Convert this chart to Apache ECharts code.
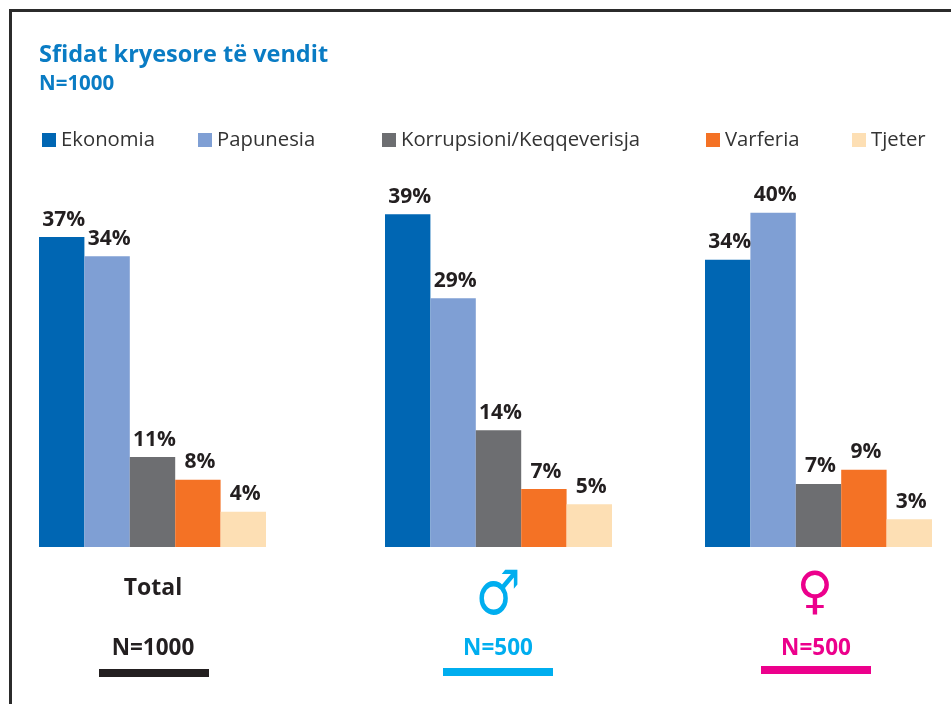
<!DOCTYPE html>
<html>
<head>
<meta charset="utf-8">
<style>
  html, body { margin: 0; padding: 0; background: #fff; }
  #chart { width: 951px; height: 704px; }
</style>
<script src="https://cdn.jsdelivr.net/npm/echarts@6/dist/echarts.min.js"></script>
</head>
<body>
<div id="chart"></div>
<script>
var categories = ["Ekonomia", "Papunesia", "Korrupsioni/Keqqeverisja", "Varferia", "Tjeter"];
var colors = ["#0066b3", "#7f9fd4", "#6d6e71", "#f47225", "#fddfb4"];

// bar heights, they do not always fit the printed label
var totalValues = [36.9, 34.6, 10.7, 8.0, 4.2];
var maleValues = [39.6, 29.6, 13.9, 6.9, 5.1];
var femaleValues = [34.2, 39.8, 7.5, 9.2, 3.3];

// printed labels
var totalLabels = ["37%", "34%", "11%", "8%", "4%"];
var maleLabels = ["39%", "29%", "14%", "7%", "5%"];
var femaleLabels = ["34%", "40%", "7%", "9%", "3%"];

var font = "Open Sans";
var groups = [
  { left: 39, values: totalValues, labels: totalLabels },
  { left: 385, values: maleValues, labels: maleLabels },
  { left: 705, values: femaleValues, labels: femaleLabels }
];
var legendLeft = [42, 198, 382, 706, 852];

var grids = [], xAxes = [], yAxes = [], series = [];
groups.forEach(function(g, i) {
  grids.push({ left: g.left, top: 211, width: 227, height: 336 });
  xAxes.push({ type: "category", gridIndex: i, data: [""], show: false });
  yAxes.push({ type: "value", gridIndex: i, min: 0, max: 40, show: false });
  categories.forEach(function(name, c) {
    series.push({
      name: name,
      type: "bar",
      xAxisIndex: i,
      yAxisIndex: i,
      barGap: 0,
      barCategoryGap: 0,
      itemStyle: { color: colors[c] },
      label: {
        show: true,
        position: "top",
        distance: 7,
        offset: [2, 0],
        formatter: g.labels[c],
        fontFamily: font,
        fontWeight: "bold",
        fontSize: 21,
        color: "#231f20"
      },
      data: [g.values[c]]
    });
  });
});

function text(str, x, y, size, color, align, weight, family) {
  return {
    type: "text",
    x: x,
    y: y,
    style: {
      text: str,
      fill: color,
      font: (weight || "bold") + " " + size + "px '" + (family || font) + "'",
      textAlign: align || "center",
      textVerticalAlign: "middle"
    }
  };
}
function rect(x, y, w, h, color) {
  return { type: "rect", shape: { x: x, y: y, width: w, height: h }, style: { fill: color } };
}
// the sex symbols are narrower in the original than in DejaVu
function symbol(str, x, y, size, color, sx, sy) {
  var el = text(str, x, y, size, color, "center", "normal", "DejaVu Sans");
  el.scaleX = sx;
  el.scaleY = sy;
  return el;
}

var myChart = echarts.init(document.getElementById("chart"));
myChart.setOption({
  animation: false,
  color: colors,
  grid: grids,
  xAxis: xAxes,
  yAxis: yAxes,
  series: series,
  legend: categories.map(function(name, c) {
    return {
      data: [{ name: name, icon: "rect" }],
      left: legendLeft[c],
      top: 130,
      padding: 0,
      itemWidth: 14,
      itemHeight: 14,
      selectedMode: false,
      textStyle: { fontFamily: font, fontSize: 20.3, color: "#333" }
    };
  }),
  graphic: [
    rect(9, 9, 942, 3, "#2b2b2b"),
    rect(9, 9, 3, 695, "#2b2b2b"),
    text("Sfidat kryesore të vendit", 39, 55, 23.5, "#0a7cc4", "left"),
    text("N=1000", 39, 84, 20.5, "#0a7cc4", "left"),
    text("Total", 153, 588, 23, "#231f20"),
    symbol("♂", 498, 598, 56, "#00aeef", 0.9, 1.1),
    symbol("♀", 815, 595, 54, "#ec008c", 0.92, 0.95),
    text("N=1000", 153, 649, 22.5, "#231f20"),
    text("N=500", 498, 649, 22.5, "#00aeef"),
    text("N=500", 816, 649, 22.5, "#ec008c"),
    rect(99, 669, 110, 8, "#231f20"),
    rect(443, 668, 110, 8, "#00aeef"),
    rect(761, 666, 110, 8, "#ec008c")
  ]
});
</script>
</body>
</html>
